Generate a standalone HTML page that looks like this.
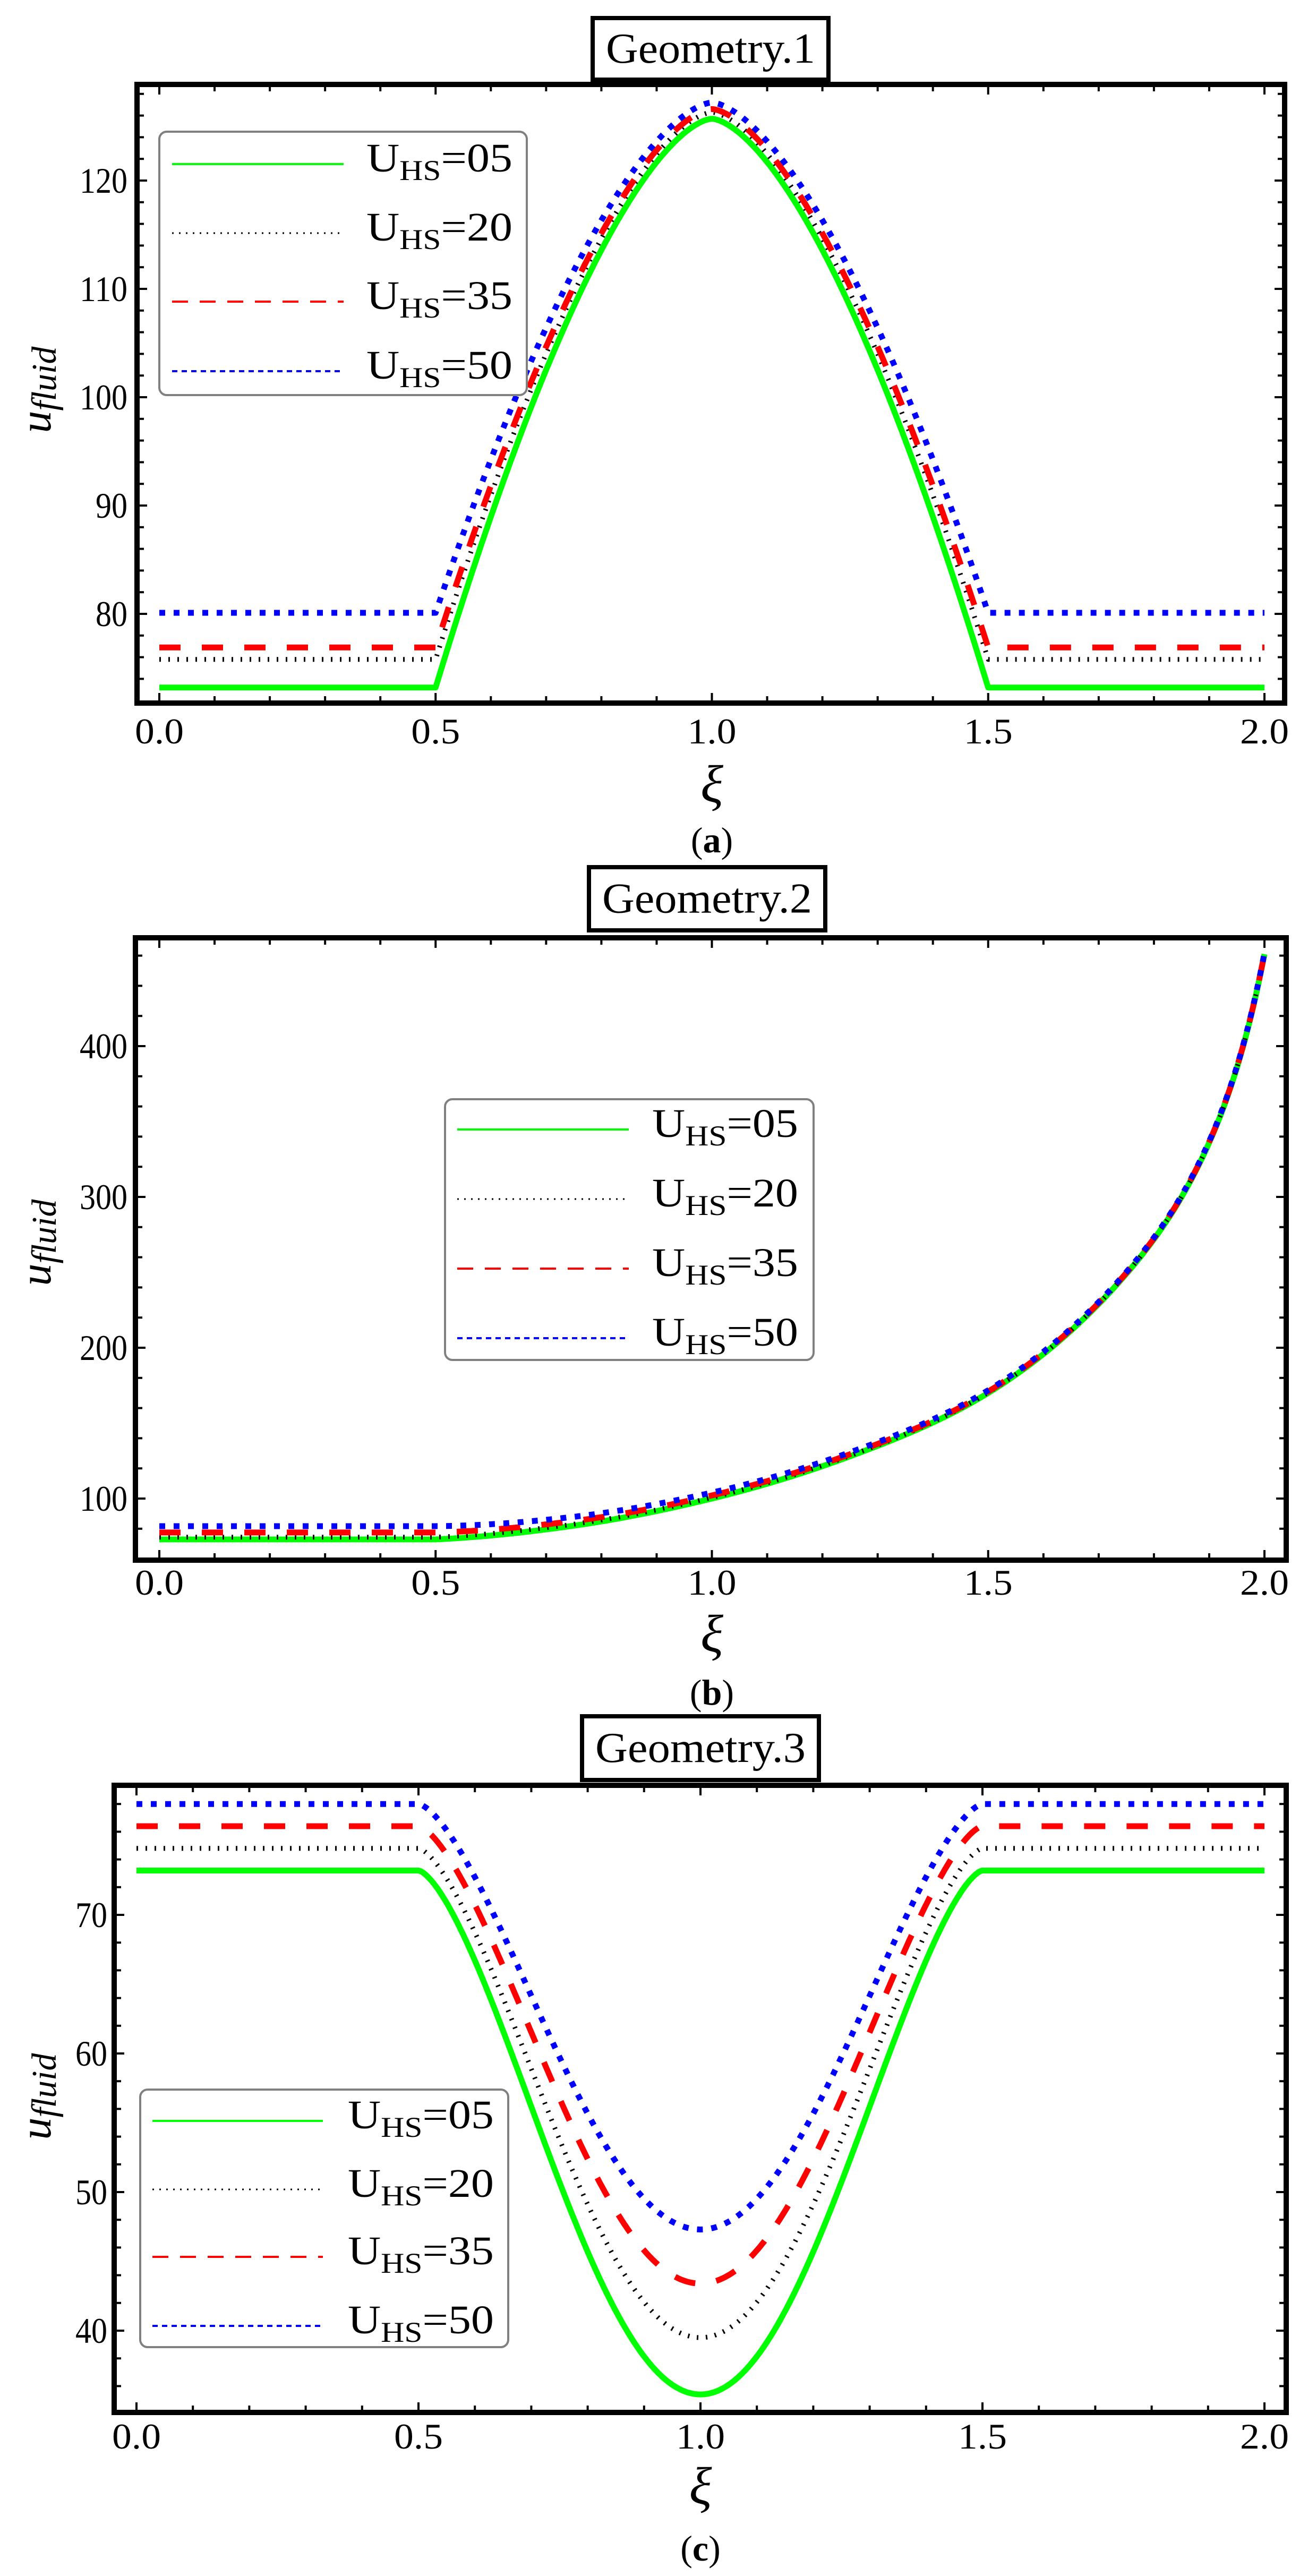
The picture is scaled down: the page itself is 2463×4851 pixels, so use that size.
<!DOCTYPE html>
<html><head><meta charset="utf-8">
<style>
html,body{margin:0;padding:0;background:#fff;}
svg{display:block;}
text{font-family:"Liberation Serif","Times New Roman",serif;fill:#000;}
</style></head>
<body>
<svg id="s" width="2463" height="4851" viewBox="0 0 2463 4851" xmlns="http://www.w3.org/2000/svg"></svg>
<script>
const S=document.getElementById('s');
let out='';
function add(t){out+=t;}
const FF='font-family="Liberation Serif, serif"';
const sty={
 g:'stroke="#00ff00" stroke-width="11"',
 k:'stroke="#000" stroke-width="9" stroke-dasharray="3 14"',
 r:'stroke="#ff0000" stroke-width="11" stroke-dasharray="40 40"',
 b:'stroke="#0000ff" stroke-width="11" stroke-dasharray="11 16"'
};
const lsty={
 g:'stroke="#00ff00" stroke-width="4"',
 k:'stroke="#000" stroke-width="3" stroke-dasharray="3 10"',
 r:'stroke="#ff0000" stroke-width="4" stroke-dasharray="30 22"',
 b:'stroke="#0000ff" stroke-width="4" stroke-dasharray="10 8"'
};
function panel(o){
 add(`<rect x="${o.fx}" y="${o.fy}" width="${o.fw}" height="${o.fh}" fill="none" stroke="#000" stroke-width="10"/>`);
 const X=o.X,Y=o.Y;
 const top=o.fy+5,bot=o.fy+o.fh-5,left=o.fx+5,right=o.fx+o.fw-5;
 for(let i=0;i<=20;i++){const xi=i/10,x=X(xi),L=(i%5==0)?14:8;
  add(`<line x1="${x}" y1="${bot}" x2="${x}" y2="${bot-L}" stroke="#000" stroke-width="4"/>`);
  add(`<line x1="${x}" y1="${top}" x2="${x}" y2="${top+L}" stroke="#000" stroke-width="4"/>`);}
 ['0.0','0.5','1.0','1.5','2.0'].forEach((s,i)=>{add(`<text ${FF} x="${X(i*0.5)}" y="${o.xly}" font-size="68" text-anchor="middle" textLength="92" lengthAdjust="spacingAndGlyphs">${s}</text>`);});
 for(let v=o.ymin;v<=o.ymax;v+=o.minor){const y=Y(v);if(y<top||y>bot)continue;const maj=Math.abs((v/o.major)-Math.round(v/o.major))<1e-6;const L=maj?14:8;
  add(`<line x1="${left}" y1="${y}" x2="${left+L}" y2="${y}" stroke="#000" stroke-width="4"/>`);
  add(`<line x1="${right}" y1="${y}" x2="${right-L}" y2="${y}" stroke="#000" stroke-width="4"/>`);
  if(maj){const s=String(v);add(`<text ${FF} x="${o.ylx}" y="${y+23}" font-size="68" text-anchor="end" textLength="${s.length*30}" lengthAdjust="spacingAndGlyphs">${s}</text>`);}}
 ['g','k','r','b'].forEach((k,idx)=>{let d='';for(let i=0;i<=800;i++){const xi=2*i/800;const v=o.f(xi,idx);d+=(i?'L':'M')+X(xi).toFixed(1)+' '+Y(v).toFixed(1);}
  add(`<path d="${d}" fill="none" ${sty[k]} stroke-linecap="butt" stroke-linejoin="round"/>`);});
 const L=o.leg;
 add(`<rect x="${L.x}" y="${L.y}" width="${L.w}" height="${L.h}" rx="14" fill="#fff" stroke="#808080" stroke-width="4"/>`);
 const labs=['05','20','35','50'];
 ['g','k','r','b'].forEach((k,i)=>{const y=L.rows[i];
  add(`<line x1="${L.lx1}" y1="${y}" x2="${L.lx2}" y2="${y}" ${lsty[k]}/>`);
  add(`<text ${FF} x="${L.tx}" y="${y+14}" font-size="76" textLength="275" lengthAdjust="spacingAndGlyphs">U<tspan font-size="54" dy="16">HS</tspan><tspan dy="-16">=${labs[i]}</tspan></text>`);});
 const T=o.tb;
 add(`<rect x="${T.x}" y="${T.y}" width="${T.w}" height="${T.h}" fill="#fff" stroke="#000" stroke-width="8"/>`);
 add(`<text ${FF} x="${T.x+T.w/2}" y="${T.y+T.h/2+26}" font-size="80" text-anchor="middle" textLength="${T.w-50}" lengthAdjust="spacingAndGlyphs">${T.t}</text>`);
 add(`<text ${FF} x="${X(1)}" y="${o.xiy}" font-size="100" font-style="italic" text-anchor="middle">ξ</text>`);
 add(`<text ${FF} x="${X(1)}" y="${o.cy}" font-size="68" text-anchor="middle">(<tspan font-weight="bold">${o.c}</tspan>)</text>`);
 add(`<text transform="translate(${o.ulx},${o.uly}) rotate(-90)" text-anchor="middle" font-family="Liberation Mono, monospace" font-style="italic" font-size="84">u<tspan font-size="66" dy="10">fluid</tspan></text>`);
}
const aB=[73.2,75.8,76.9,80.1],aP=[125.7,126.3,126.6,127.2];
panel({fx:258,fy:159,fw:2161,fh:1165,X:x=>300+x*1040.5,Y:v=>1156-(v-80)*20.4,
 ymin:72,ymax:128,minor:2,major:10,ylx:240,xly:1400,
 f:(x,i)=>{const t=Math.abs(x-1);let f=t<0.5?1-Math.pow(2*t,1.6):0;return aB[i]+(aP[i]-aB[i])*f;},
 leg:{x:300,y:248,w:692,h:496,rows:[309,439,568,699],lx1:324,lx2:647,tx:690},
 tb:{x:1116,y:34,w:444,h:116,t:'Geometry.1'},xiy:1510,cy:1605,c:'a',ulx:95,uly:734});
const bx=[0.5,0.75,1.0,1.25,1.5,1.75,1.9,2.0],bv=[72.9,82,100,128,170,249,336,461].map(Math.log);
function G(x){if(x<=0.5)return 72.9;for(let i=0;i<bx.length-1;i++){if(x<=bx[i+1]){const t=(x-bx[i])/(bx[i+1]-bx[i]);
 const m0=i>0?(bv[i+1]-bv[i-1])/(bx[i+1]-bx[i-1]):(bv[1]-bv[0])/(bx[1]-bx[0])*0.5;
 const m1=i+2<bx.length?(bv[i+2]-bv[i])/(bx[i+2]-bx[i]):(bv[i+1]-bv[i])/(bx[i+1]-bx[i])*1.3;
 const h=bx[i+1]-bx[i],t2=t*t,t3=t2*t;
 const v=(2*t3-3*t2+1)*bv[i]+(t3-2*t2+t)*h*m0+(-2*t3+3*t2)*bv[i+1]+(t3-t2)*h*m1;return Math.exp(v);}}return 461;}
const bd=[0,1.5,4.6,8.8];
panel({fx:255,fy:1766,fw:2167,fh:1172,X:x=>300+x*1040.5,Y:v=>2822-(v-100)*2.84,
 ymin:60,ymax:480,minor:20,major:100,ylx:240,xly:3003,
 f:(x,i)=>G(x)+bd[i]*(x<0.5?1:Math.exp(-1.6*(x-0.5))),
 leg:{x:838,y:2070,w:694,h:491,rows:[2127,2258,2389,2520],lx1:861,lx2:1184,tx:1228},
 tb:{x:1109,y:1633,w:445,h:119,t:'Geometry.2'},xiy:3110,cy:3210,c:'b',ulx:95,uly:2340});
const cB=[73.2,74.8,76.4,78.0],cM=[35.4,39.5,43.4,47.3];
panel({fx:215,fy:3362,fw:2207,fh:1181,X:x=>257+x*1062,Y:v=>3606-(v-70)*26.1,
 ymin:36,ymax:78,minor:2,major:10,ylx:202,xly:4611,
 f:(x,i)=>{let g=0;if(x>0.5&&x<1.5)g=Math.pow((1-Math.cos(2*Math.PI*(x-0.5)))/2,0.75);return cB[i]-(cB[i]-cM[i])*g;},
 leg:{x:264,y:3935,w:693,h:485,rows:[3994,4123,4250,4380],lx1:287,lx2:608,tx:655},
 tb:{x:1096,y:3232,w:446,h:120,t:'Geometry.3'},xiy:4715,cy:4822,c:'c',ulx:95,uly:3948});
S.innerHTML=out;
</script>
</body></html>
